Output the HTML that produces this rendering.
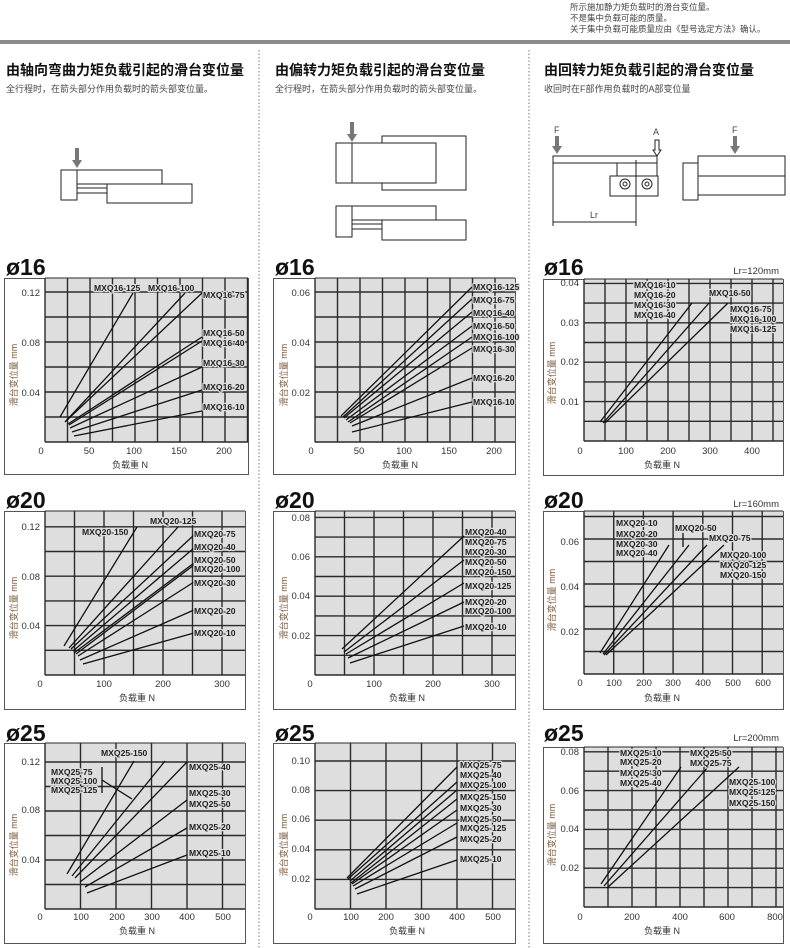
<!DOCTYPE html>
<html><head><meta charset="utf-8">
<style>
html,body{margin:0;padding:0;background:#fff;}
svg{display:block;font-family:"Liberation Sans","Noto Sans CJK SC",sans-serif;}
.tk{font-size:9.5px;fill:#333;}
.lb{font-size:8.6px;font-weight:bold;fill:#222;stroke:#dedede;stroke-width:2.5px;paint-order:stroke;stroke-linejoin:round;}
.ax{font-size:9px;fill:#333;}
.yt{font-size:9px;fill:#7a5a3c;}
.big{font-size:23px;font-weight:bold;fill:#111;}
.ti{font-size:14px;font-weight:bold;fill:#111;}
.st{font-size:9px;fill:#444;}
.hd{font-size:8.5px;fill:#444;}
.lr{font-size:9.5px;fill:#333;}
</style></head><body>
<svg id="s" width="790" height="948" viewBox="0 0 790 948" xmlns="http://www.w3.org/2000/svg">
<text class="hd" x="570" y="10">所示施加静力矩负载时的滑台变位量。</text>
<text class="hd" x="570" y="21">不是集中负载可能的质量。</text>
<text class="hd" x="570" y="32">关于集中负载可能质量应由《型号选定方法》确认。</text>
<rect x="0" y="40" width="790" height="4" fill="#8a8a8a"/>
<line x1="259" y1="50" x2="259" y2="948" stroke="#777" stroke-dasharray="1.5,2"/>
<line x1="529" y1="50" x2="529" y2="948" stroke="#777" stroke-dasharray="1.5,2"/>

<text class="ti" x="6" y="75">由轴向弯曲力矩负载引起的滑台变位量</text>
<text class="st" x="6" y="92">全行程时，在箭头部分作用负载时的箭头部变位量。</text>
<text class="ti" x="275" y="75">由偏转力矩负载引起的滑台变位量</text>
<text class="st" x="275" y="92">全行程时，在箭头部分作用负载时的箭头部变位量。</text>
<text class="ti" x="544" y="75">由回转力矩负载引起的滑台变位量</text>
<text class="st" x="544" y="92">收回时在F部作用负载时的A部变位量</text>

<g fill="none" stroke="#222" stroke-width="1">
<rect x="61" y="170" width="16" height="30"/>
<rect x="77" y="170" width="85" height="14"/>
<rect x="107" y="184" width="85" height="19"/>
<line x1="77" y1="188" x2="107" y2="188"/><line x1="77" y1="193" x2="107" y2="193"/>
<rect x="382" y="136" width="84" height="54"/>
<rect x="336" y="143" width="100" height="40" fill="#fff"/>
<line x1="352" y1="143" x2="352" y2="183"/>
<rect x="336" y="206" width="16" height="31"/>
<rect x="352" y="206" width="84" height="14"/>
<rect x="382" y="220" width="84" height="20"/>
<line x1="352" y1="224" x2="382" y2="224"/><line x1="352" y1="229" x2="382" y2="229"/>
<rect x="553" y="156" width="104" height="7"/>
<rect x="617" y="163" width="40" height="13"/>
<rect x="610" y="176" width="48" height="20"/>
<circle cx="625" cy="184" r="5"/><circle cx="647" cy="184" r="5"/>
<circle cx="625" cy="184" r="2"/><circle cx="647" cy="184" r="2"/>
<line x1="553" y1="163" x2="553" y2="226"/>
<line x1="636" y1="160" x2="636" y2="226"/>
<line x1="553" y1="222" x2="636" y2="222"/>
<rect x="698" y="156" width="87" height="20"/>
<rect x="698" y="176" width="87" height="19"/>
<rect x="683" y="163" width="15" height="37"/>
<path d="M655,140 L659,140 L659,150 L661,150 L657,156 L653,150 L655,150 Z"/>
</g>
<g fill="#777">
<path d="M75,148 h4 v12 h3 l-5,8 l-5,-8 h3 z"/>
<path d="M350,122 h4 v12 h3 l-5,8 l-5,-8 h3 z"/>
<path d="M555,136 h4 v10 h3 l-5,8 l-5,-8 h3 z"/>
<path d="M733,136 h4 v10 h3 l-5,8 l-5,-8 h3 z"/>
</g>
<text class="st" x="554" y="133">F</text>
<text class="st" x="653" y="135">A</text>
<text class="st" x="732" y="133">F</text>
<text class="st" x="590" y="218">Lr</text>

<g id="charts"></g>

<text class="big" x="6" y="275">ø16</text>
<text class="big" x="275" y="275">ø16</text>
<text class="big" x="544" y="275">ø16</text>
<text class="big" x="6" y="508">ø20</text>
<text class="big" x="275" y="508">ø20</text>
<text class="big" x="544" y="508">ø20</text>
<text class="big" x="6" y="741">ø25</text>
<text class="big" x="275" y="741">ø25</text>
<text class="big" x="544" y="741">ø25</text>
<text class="lr" x="779" y="274" text-anchor="end">Lr=120mm</text>
<text class="lr" x="779" y="507" text-anchor="end">Lr=160mm</text>
<text class="lr" x="779" y="741" text-anchor="end">Lr=200mm</text>

<g class="tk" text-anchor="end"><text x="40" y="296">0.12</text><text x="40" y="346">0.08</text><text x="40" y="396">0.04</text></g>
<g class="tk" text-anchor="middle"><text x="41" y="454">0</text><text x="89" y="454">50</text><text x="134" y="454">100</text><text x="179" y="454">150</text><text x="224" y="454">200</text></g>
<text class="ax" x="130" y="468" text-anchor="middle">负载重 N</text>
<text class="yt" transform="translate(17,375) rotate(-90)" text-anchor="middle">滑台变位量 mm</text>
<g class="lb"><text x="94" y="291">MXQ16-125</text><text x="148" y="291">MXQ16-100</text><text x="203" y="298">MXQ16-75</text><text x="203" y="336">MXQ16-50</text><text x="203" y="346">MXQ16-40</text><text x="203" y="366">MXQ16-30</text><text x="203" y="390">MXQ16-20</text><text x="203" y="410">MXQ16-10</text></g>
<g class="tk" text-anchor="end"><text x="310" y="296">0.06</text><text x="310" y="346">0.04</text><text x="310" y="396">0.02</text></g>
<g class="tk" text-anchor="middle"><text x="311" y="454">0</text><text x="359" y="454">50</text><text x="404" y="454">100</text><text x="449" y="454">150</text><text x="494" y="454">200</text></g>
<text class="ax" x="400" y="468" text-anchor="middle">负载重 N</text>
<text class="yt" transform="translate(287,375) rotate(-90)" text-anchor="middle">滑台变位量 mm</text>
<g class="lb"><text x="473" y="290">MXQ16-125</text><text x="473" y="303">MXQ16-75</text><text x="473" y="316">MXQ16-40</text><text x="473" y="329">MXQ16-50</text><text x="473" y="340">MXQ16-100</text><text x="473" y="352">MXQ16-30</text><text x="473" y="381">MXQ16-20</text><text x="473" y="405">MXQ16-10</text></g>
<g class="tk" text-anchor="end"><text x="579" y="286">0.04</text><text x="579" y="326">0.03</text><text x="579" y="365">0.02</text><text x="579" y="405">0.01</text></g>
<g class="tk" text-anchor="middle"><text x="580" y="454">0</text><text x="626" y="454">100</text><text x="668" y="454">200</text><text x="710" y="454">300</text><text x="752" y="454">400</text></g>
<text class="ax" x="662" y="468" text-anchor="middle">负载重 N</text>
<text class="yt" transform="translate(555,373) rotate(-90)" text-anchor="middle">滑台变位量 mm</text>
<g class="lb"><text x="634" y="288">MXQ16-10</text><text x="634" y="298">MXQ16-20</text><text x="634" y="308">MXQ16-30</text><text x="634" y="318">MXQ16-40</text><text x="709" y="296">MXQ16-50</text><text x="730" y="312">MXQ16-75</text><text x="730" y="322">MXQ16-100</text><text x="730" y="332">MXQ16-125</text></g>
<g class="tk" text-anchor="end"><text x="40" y="530">0.12</text><text x="40" y="580">0.08</text><text x="40" y="629">0.04</text></g>
<g class="tk" text-anchor="middle"><text x="40" y="687">0</text><text x="104" y="687">100</text><text x="163" y="687">200</text><text x="222" y="687">300</text></g>
<text class="ax" x="137" y="701" text-anchor="middle">负载重 N</text>
<text class="yt" transform="translate(17,608) rotate(-90)" text-anchor="middle">滑台变位量 mm</text>
<g class="lb"><text x="82" y="535">MXQ20-150</text><text x="150" y="524">MXQ20-125</text><text x="194" y="537">MXQ20-75</text><text x="194" y="550">MXQ20-40</text><text x="194" y="563">MXQ20-50</text><text x="194" y="572">MXQ20-100</text><text x="194" y="586">MXQ20-30</text><text x="194" y="614">MXQ20-20</text><text x="194" y="636">MXQ20-10</text></g>
<g class="tk" text-anchor="end"><text x="310" y="521">0.08</text><text x="310" y="560">0.06</text><text x="310" y="599">0.04</text><text x="310" y="639">0.02</text></g>
<g class="tk" text-anchor="middle"><text x="310" y="687">0</text><text x="374" y="687">100</text><text x="433" y="687">200</text><text x="492" y="687">300</text></g>
<text class="ax" x="407" y="701" text-anchor="middle">负载重 N</text>
<text class="yt" transform="translate(287,608) rotate(-90)" text-anchor="middle">滑台变位量 mm</text>
<g class="lb"><text x="465" y="535">MXQ20-40</text><text x="465" y="545">MXQ20-75</text><text x="465" y="555">MXQ20-30</text><text x="465" y="565">MXQ20-50</text><text x="465" y="575">MXQ20-150</text><text x="465" y="589">MXQ20-125</text><text x="465" y="605">MXQ20-20</text><text x="465" y="614">MXQ20-100</text><text x="465" y="630">MXQ20-10</text></g>
<g class="tk" text-anchor="end"><text x="579" y="545">0.06</text><text x="579" y="590">0.04</text><text x="579" y="635">0.02</text></g>
<g class="tk" text-anchor="middle"><text x="580" y="686">0</text><text x="614" y="686">100</text><text x="644" y="686">200</text><text x="673" y="686">300</text><text x="703" y="686">400</text><text x="733" y="686">500</text><text x="763" y="686">600</text></g>
<text class="ax" x="662" y="701" text-anchor="middle">负载重 N</text>
<text class="yt" transform="translate(555,600) rotate(-90)" text-anchor="middle">滑台变位量 mm</text>
<g class="lb"><text x="616" y="526">MXQ20-10</text><text x="616" y="537">MXQ20-20</text><text x="616" y="547">MXQ20-30</text><text x="616" y="556">MXQ20-40</text><text x="675" y="531">MXQ20-50</text><text x="709" y="541">MXQ20-75</text><text x="720" y="558">MXQ20-100</text><text x="720" y="568">MXQ20-125</text><text x="720" y="578">MXQ20-150</text></g>
<g class="tk" text-anchor="end"><text x="40" y="765">0.12</text><text x="40" y="813">0.08</text><text x="40" y="863">0.04</text></g>
<g class="tk" text-anchor="middle"><text x="40" y="920">0</text><text x="81" y="920">100</text><text x="117" y="920">200</text><text x="152" y="920">300</text><text x="187" y="920">400</text><text x="223" y="920">500</text></g>
<text class="ax" x="137" y="934" text-anchor="middle">负载重 N</text>
<text class="yt" transform="translate(17,845) rotate(-90)" text-anchor="middle">滑台变位量 mm</text>
<g class="lb"><text x="101" y="756">MXQ25-150</text><text x="51" y="775">MXQ25-75</text><text x="51" y="784">MXQ25-100</text><text x="51" y="793">MXQ25-125</text><text x="189" y="770">MXQ25-40</text><text x="189" y="796">MXQ25-30</text><text x="189" y="807">MXQ25-50</text><text x="189" y="830">MXQ25-20</text><text x="189" y="856">MXQ25-10</text></g>
<g class="tk" text-anchor="end"><text x="310" y="764">0.10</text><text x="310" y="793">0.08</text><text x="310" y="822">0.06</text><text x="310" y="852">0.04</text><text x="310" y="882">0.02</text></g>
<g class="tk" text-anchor="middle"><text x="310" y="920">0</text><text x="351" y="920">100</text><text x="386" y="920">200</text><text x="422" y="920">300</text><text x="457" y="920">400</text><text x="493" y="920">500</text></g>
<text class="ax" x="407" y="934" text-anchor="middle">负载重 N</text>
<text class="yt" transform="translate(287,845) rotate(-90)" text-anchor="middle">滑台变位量 mm</text>
<g class="lb"><text x="460" y="768">MXQ25-75</text><text x="460" y="778">MXQ25-40</text><text x="460" y="788">MXQ25-100</text><text x="460" y="800">MXQ25-150</text><text x="460" y="811">MXQ25-30</text><text x="460" y="822">MXQ25-50</text><text x="460" y="831">MXQ25-125</text><text x="460" y="842">MXQ25-20</text><text x="460" y="862">MXQ25-10</text></g>
<g class="tk" text-anchor="end"><text x="579" y="755">0.08</text><text x="579" y="794">0.06</text><text x="579" y="832">0.04</text><text x="579" y="871">0.02</text></g>
<g class="tk" text-anchor="middle"><text x="580" y="920">0</text><text x="632" y="920">200</text><text x="680" y="920">400</text><text x="727" y="920">600</text><text x="775" y="920">800</text></g>
<text class="ax" x="662" y="934" text-anchor="middle">负载重 N</text>
<text class="yt" transform="translate(555,835) rotate(-90)" text-anchor="middle">滑台变位量 mm</text>
<g class="lb"><text x="620" y="756">MXQ25-10</text><text x="620" y="765">MXQ25-20</text><text x="620" y="776">MXQ25-30</text><text x="620" y="786">MXQ25-40</text><text x="690" y="756">MXQ25-50</text><text x="690" y="766">MXQ25-75</text><text x="729" y="785">MXQ25-100</text><text x="729" y="795">MXQ25-125</text><text x="729" y="806">MXQ25-150</text></g>
</svg>
<script>
var NS="http://www.w3.org/2000/svg",G=document.getElementById("charts");
function el(n,a){var e=document.createElementNS(NS,n);for(var k in a)e.setAttribute(k,a[k]);G.appendChild(e);return e;}
var C=[
 {b:[4,278,248,474],p:[45,278,442],vs:22.5,hs:25,L:[[60,417,133,293],[65,422,185,293],[66,421,202,293],[68,424,202,337],[69,425,202,341],[70,428,202,367],[72,432,202,390],[74,436,202,411]]},
 {b:[273,278,515,474],p:[315,278,442],vs:22.5,hs:25,L:[[341,416,472,287],[343,417,472,299],[344,418,472,312],[346,420,472,326],[348,422,472,337],[350,423,472,348],[352,426,472,378],[352,432,472,402]]},
 {b:[543,279,783,475],p:[584,279,441],vs:21,hs:19.7,L:[[600,422,692,303],[603,423,709,303],[605,423,728,303]]},
 {b:[4,511,245,709],p:[45,511,675],vs:29.5,hs:24.7,L:[[64,646,137,527],[69,648,178,527],[71,649,194,535],[73,651,194,548],[74,653,194,563],[76,654,194,565],[78,656,194,582],[80,660,194,610],[83,664,194,633]]},
 {b:[273,511,515,709],p:[315,511,675],vs:29.5,hs:19.7,L:[[342,649,464,536],[344,652,464,560],[346,654,464,583],[348,658,464,602],[350,663,464,626]]},
 {b:[543,511,783,709],p:[584,511,674],vs:29.7,hs:22.5,L:[[600,653,669,545],[603,654,689,545],[604,655,707,545],[606,655,724,545],[683,533,683,547]]},
 {b:[4,743,245,943],p:[45,743,909],vs:35.5,hs:24.5,L:[[67,874,134,761],[72,876,165,761],[75,878,187,762],[80,882,187,800],[85,887,187,828],[87,893,187,855],[102,780,132,799],[102,767,102,793]]},
 {b:[273,743,515,943],p:[315,743,909],vs:35.5,hs:29.6,L:[[347,878,457,767],[348,879,457,782],[350,881,457,790],[351,883,457,799],[352,884,457,810],[353,886,457,823],[355,889,457,837],[357,894,457,860]]},
 {b:[543,747,783,943],p:[584,747,907],vs:24,hs:19.4,L:[[601,884,681,767],[604,886,708,767],[607,888,739,767]]}
];
C.forEach(function(c){
 var b=c.b,p=c.p,R=b[2];
 el("rect",{x:b[0]+.5,y:b[1]+.5,width:b[2]-b[0],height:b[3]-b[1],fill:"#fff",stroke:"#555","stroke-width":1});
 el("rect",{x:p[0],y:p[1],width:R-p[0],height:p[2]-p[1],fill:"#dedede"});
 for(var x=p[0];x<=R+0.5;x+=c.vs)el("line",{x1:x,y1:p[1],x2:x,y2:p[2],stroke:"#2a2a2a","stroke-width":1.4});
 for(var y=p[2];y>=p[1]-0.5;y-=c.hs)el("line",{x1:p[0],y1:y,x2:R,y2:y,stroke:"#2a2a2a","stroke-width":1.4});
 el("line",{x1:p[0],y1:p[1],x2:R,y2:p[1],stroke:"#2a2a2a","stroke-width":1});
 c.L.forEach(function(l){el("line",{x1:l[0],y1:l[1],x2:l[2],y2:l[3],stroke:"#111","stroke-width":1.3});});
});
</script>
</body></html>
